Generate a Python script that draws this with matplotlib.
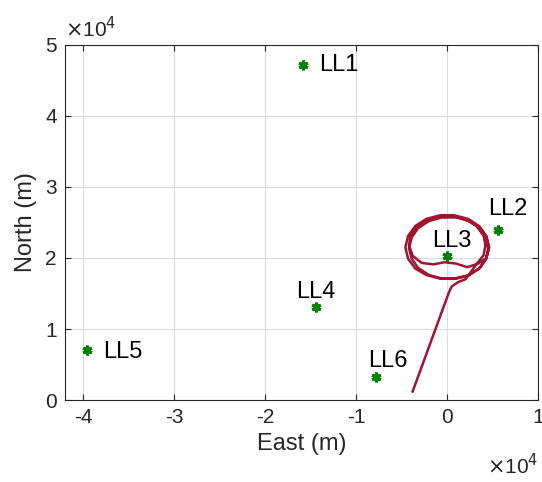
#!/usr/bin/env python3
# -*- coding: utf-8 -*-
"""
Landmark map with vehicle track (East/North in metres).
"""

import numpy as np
import matplotlib.pyplot as plt
from matplotlib.ticker import FuncFormatter

plt.rcParams['font.family'] = ['Liberation Sans', 'DejaVu Sans']

# Landmarks [m]
lm_names = ['LL1', 'LL2', 'LL3', 'LL4', 'LL5', 'LL6']
lm_east = [-15900, 5550, 0, -14400, -39600, -7800]
lm_north = [47200, 24000, 20300, 13100, 7100, 3200]

# Vehicle track [m]
track_east = [
    # run-in from the south
    -3800, 200, 500, 1200, 2000,
    # loop 1
    2300, 3500, 4300, 4600, 4300, 3500, 2300, 800, -800, -2300, -3500, -4300,
    -4600, -4300, -3500, -2300, -800, 800, 2300,
    # loop 2
    3200, 4000, 4200, 4000, 3200, 2100, 700, -700, -2100, -3200, -4000, -4200,
    -3800, -2800, -1500, -300, 1000, 2200, 3400,
    # loop 3
    4300, 4600, 4300, 3600, 2400, 1000, -600, -2000, -3200, -3900, -4200, -3900,
    -3200, -2000, -600, 1000, 2400, 3600, 4300, 4500, 4200, 3700,
]
track_north = [
    1200, 15200, 16000, 16600, 17000,
    17500, 18500, 20000, 21500, 23100, 24500, 25500, 26000, 26000, 25500, 24500, 23100,
    21500, 19900, 18500, 17600, 17100, 17100, 17500,
    19100, 20400, 21800, 23200, 24500, 25400, 25900, 25900, 25400, 24500, 23200, 21800,
    20300, 19300, 19100, 19400, 19200, 18700, 19200,
    20000, 21400, 22900, 24200, 25200, 25700, 25700, 25200, 24200, 22900, 21400, 19900,
    18600, 17600, 17100, 17100, 17600, 18600, 19900, 21400, 22800, 23700,
]

# label offsets from marker, in points (dx, dy, ha)
label_pos = {
    'LL1': (12, 0, 'left'),
    'LL2': (-7, 15, 'left'),
    'LL3': (-11, 11, 'left'),
    'LL4': (0, 11, 'center'),
    'LL5': (12, -2, 'left'),
    'LL6': (-6, 12, 'left'),
}

fig = plt.figure(figsize=(5.42, 4.82), dpi=100)
ax = fig.add_axes([0.12, 0.170, 0.873, 0.737])

ax.plot(track_east, track_north, color='#A2142F', linewidth=1.8,
        solid_joinstyle='round', zorder=3)
ax.plot(lm_east, lm_north, linestyle='none', marker=(6, 2, 0),
        markersize=7, markeredgewidth=2.2, color='#008000', zorder=4)

for name, e, n in zip(lm_names, lm_east, lm_north):
    dx, dy, ha = label_pos[name]
    ax.annotate(name, (e, n), xytext=(dx, dy), textcoords='offset points',
                ha=ha, va='center', fontsize=17, color='black', zorder=5)

ax.set_xlim(-42000, 10000)
ax.set_ylim(0, 50000)
ax.set_xticks(np.arange(-40000, 10001, 10000))
ax.set_yticks(np.arange(0, 50001, 10000))
fmt = FuncFormatter(lambda v, p: f'{v / 1e4:.0f}')
ax.xaxis.set_major_formatter(fmt)
ax.yaxis.set_major_formatter(fmt)

ax.grid(True, color='#dcdcdc', linewidth=0.8)
ax.set_axisbelow(True)
ax.tick_params(direction='in', top=True, right=True, length=4,
               labelsize=15, color='#262626', labelcolor='#262626', pad=6)
for s in ax.spines.values():
    s.set_color('#262626')
    s.set_linewidth(0.8)

ax.set_xlabel('East (m)', fontsize=17, color='#262626', labelpad=4)
ax.set_ylabel('North (m)', fontsize=17, color='#262626', labelpad=6)

ax.text(0.0, 1.01, r'$\times$10$^4$', transform=ax.transAxes,
        fontsize=15, color='#262626', ha='left', va='bottom')
ax.text(1.0, -0.15, r'$\times$10$^4$', transform=ax.transAxes,
        fontsize=15, color='#262626', ha='right', va='top')

plt.savefig('out.png', dpi=100)
plt.close()
